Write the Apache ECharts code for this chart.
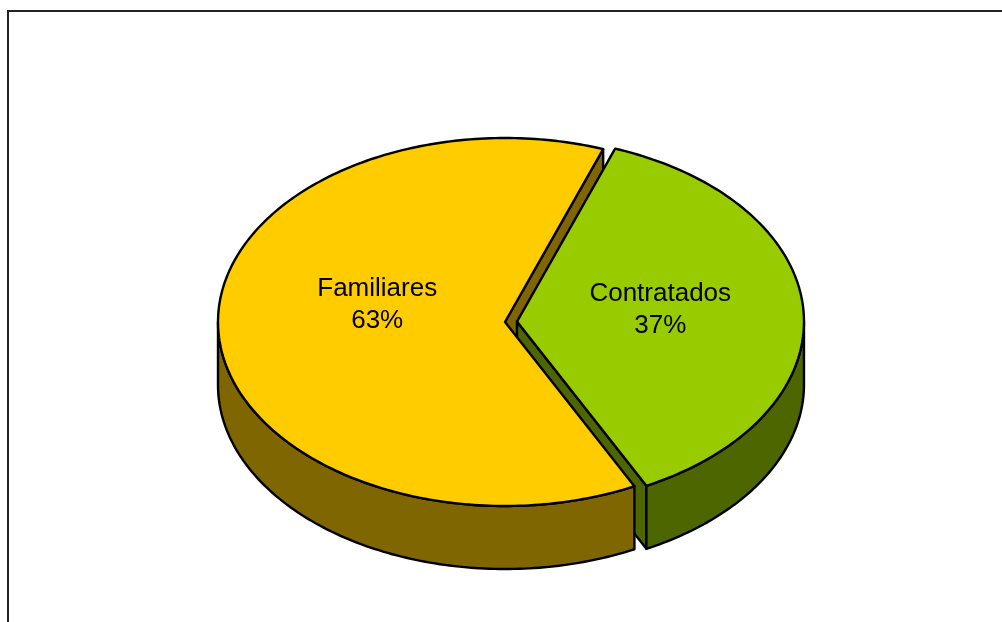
<!DOCTYPE html>
<html>
<head>
<meta charset="utf-8">
<script src="https://cdn.jsdelivr.net/npm/echarts@6/dist/echarts.min.js"></script>
<style>
  html, body { margin: 0; padding: 0; background: #fff; }
  #chart { width: 1002px; height: 622px; }
</style>
</head>
<body>
<div id="chart"></div>
<script>
// Workforce composition
const categories = ['Familiares', 'Contratados'];
const shares = [63, 37];

// Look of the tilted disc
const topColors = ['#FFCC00', '#99CC00'];
const sideColors = ['#806600', '#4D6600'];
const explodePx = [0, 12];
// label anchor: fraction of the radius along the slice's middle, and a vertical nudge
const labelRatio = [0.446, 0.5];
const labelLift = [-22, -6];

const GEO = {
  cx: 505, cy: 322,     // centre of the top face
  rx: 287, ry: 184,     // half-axes of the top ellipse
  depth: 63,            // thickness of the disc
  start: 70             // first slice starts here (degrees, counter-clockwise)
};

const total = shares.reduce((a, b) => a + b, 0);
const rad = d => d * Math.PI / 180;

function renderSlice(params, api) {
  const i = params.dataIndex;
  const v = api.value(0);
  let before = 0;
  for (let k = 0; k < i; k++) before += shares[k];
  const a0 = GEO.start + before / total * 360;
  const a1 = a0 + v / total * 360;
  const mid = (a0 + a1) / 2;

  const ex = explodePx[i];
  const cx = GEO.cx + ex * Math.cos(rad(mid));
  const cy = GEO.cy - ex * Math.sin(rad(mid)) * GEO.ry / GEO.rx;
  const pt = (a, dz) => [cx + GEO.rx * Math.cos(rad(a)), cy - GEO.ry * Math.sin(rad(a)) + (dz || 0)];
  const arc = (b0, b1, dz) => {
    const out = [];
    const n = Math.max(2, Math.ceil(Math.abs(b1 - b0)));
    for (let s = 0; s <= n; s++) out.push(pt(b0 + (b1 - b0) * s / n, dz));
    return out;
  };
  const base = { stroke: '#000', lineWidth: 2.4, lineJoin: 'round' };
  const children = [];
  const D = GEO.depth;

  // cut faces that turn toward the viewer
  const wall = (a) => ({
    type: 'polygon', z2: 10 + i,
    shape: { points: [[cx, cy], pt(a), pt(a, D), [cx, cy + D]] },
    style: Object.assign({ fill: sideColors[i] }, base)
  });
  if (Math.cos(rad(a0)) > 1e-6) children.push(wall(a0));
  if (Math.cos(rad(a1)) < -1e-6) children.push(wall(a1));

  // front rim (lower half of the ellipse)
  for (let k = -1; k <= 2; k++) {
    const lo = Math.max(a0, 180 + 360 * k);
    const hi = Math.min(a1, 360 + 360 * k);
    if (hi > lo) {
      const topArc = arc(lo, hi, 0);
      const botArc = arc(hi, lo, D);
      children.push({
        type: 'polygon', z2: 20 + i,
        shape: { points: topArc.concat(botArc) },
        style: Object.assign({ fill: sideColors[i] }, base)
      });
    }
  }

  // top face
  children.push({
    type: 'polygon', z2: 30 + i,
    shape: { points: [[cx, cy]].concat(arc(a0, a1, 0)) },
    style: Object.assign({ fill: topColors[i] }, base)
  });

  // label
  const lp = [
    cx + labelRatio[i] * GEO.rx * Math.cos(rad(mid)),
    cy - labelRatio[i] * GEO.ry * Math.sin(rad(mid)) + labelLift[i]
  ];
  children.push({
    type: 'text', z2: 50,
    style: {
      x: lp[0], y: lp[1],
      text: categories[i] + '\n' + Math.round(v / total * 100) + '%',
      fill: '#000',
      fontFamily: '"Liberation Sans", Arial, sans-serif',
      fontSize: 26,
      lineHeight: 32,
      align: 'center',
      verticalAlign: 'middle'
    }
  });

  return { type: 'group', children };
}

const chart = echarts.init(document.getElementById('chart'), null, { renderer: 'canvas' });
chart.setOption({
  animation: false,
  backgroundColor: '#fff',
  graphic: [{
    type: 'rect', z: 0,
    shape: { x: 8, y: 11, width: 1200, height: 800 },
    style: { fill: null, stroke: '#222', lineWidth: 2 }
  }],
  series: [{
    type: 'custom',
    coordinateSystem: 'none',
    renderItem: renderSlice,
    data: shares.map((v, i) => ({ name: categories[i], value: [v] }))
  }]
});
</script>
</body>
</html>
